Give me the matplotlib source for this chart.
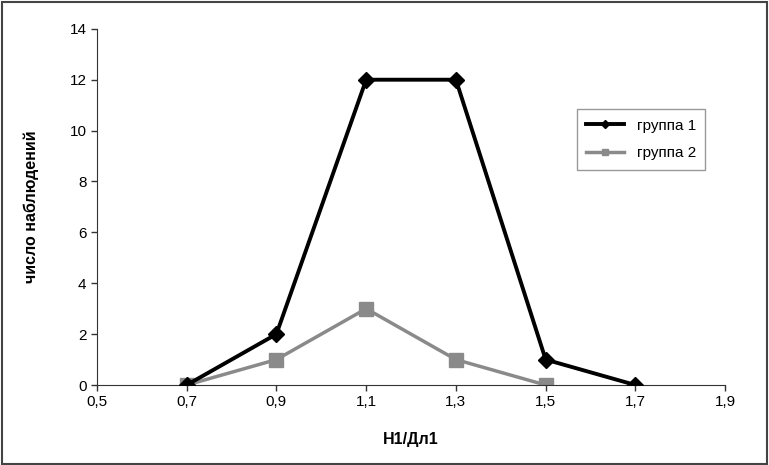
from matplotlib import pyplot as plt
from matplotlib.patches import Rectangle

x1 = [0.7, 0.9, 1.1, 1.3, 1.5, 1.7]
group1 = [0, 2, 12, 12, 1, 0]
x2 = [0.7, 0.9, 1.1, 1.3, 1.5]
group2 = [0, 1, 3, 1, 0]
xticks = [0.5, 0.7, 0.9, 1.1, 1.3, 1.5, 1.7, 1.9]
yticks = [0, 2, 4, 6, 8, 10, 12, 14]

plt.rcParams['font.family'] = ['Liberation Sans', 'DejaVu Sans']

fig = plt.figure(figsize=(7.69, 4.65), dpi=100)
ax = fig.add_axes([0.126, 0.172, 0.817, 0.766])

ax.plot(x1, group1, color='black', lw=2.8, marker='D', markersize=8,
        label='группа 1', zorder=3)
ax.plot(x2, group2, color='#8a8a8a', lw=2.5, marker='s', markersize=10,
        label='группа 2', zorder=2)

ax.set_xlim(0.5, 1.9)
ax.set_ylim(0, 14)
ax.set_xticks(xticks)
ax.set_xticklabels([f'{v:.1f}'.replace('.', ',') for v in xticks])
ax.set_yticks(yticks)
ax.tick_params(labelsize=11, length=4, width=1, color='#333333')
for s in ['top', 'right']:
    ax.spines[s].set_visible(False)
for s in ['left', 'bottom']:
    ax.spines[s].set_color('#333333')
ax.set_xlabel('Н1/Дл1', fontsize=11.5, fontweight='bold', labelpad=16)
ax.set_ylabel('число наблюдений', fontsize=11.5, fontweight='bold', labelpad=22)

ax.legend(loc='upper left', bbox_to_anchor=(0.752, 0.795), fontsize=11,
          fancybox=False, edgecolor='#999999', framealpha=1,
          handlelength=2.5, borderpad=0.6, labelspacing=0.9, markerscale=0.5)

fig.patches.append(Rectangle((0.002, 0.003), 0.995, 0.993, transform=fig.transFigure,
                             fill=False, edgecolor='#444444', lw=1.5))

fig.savefig('out.png', dpi=100)
